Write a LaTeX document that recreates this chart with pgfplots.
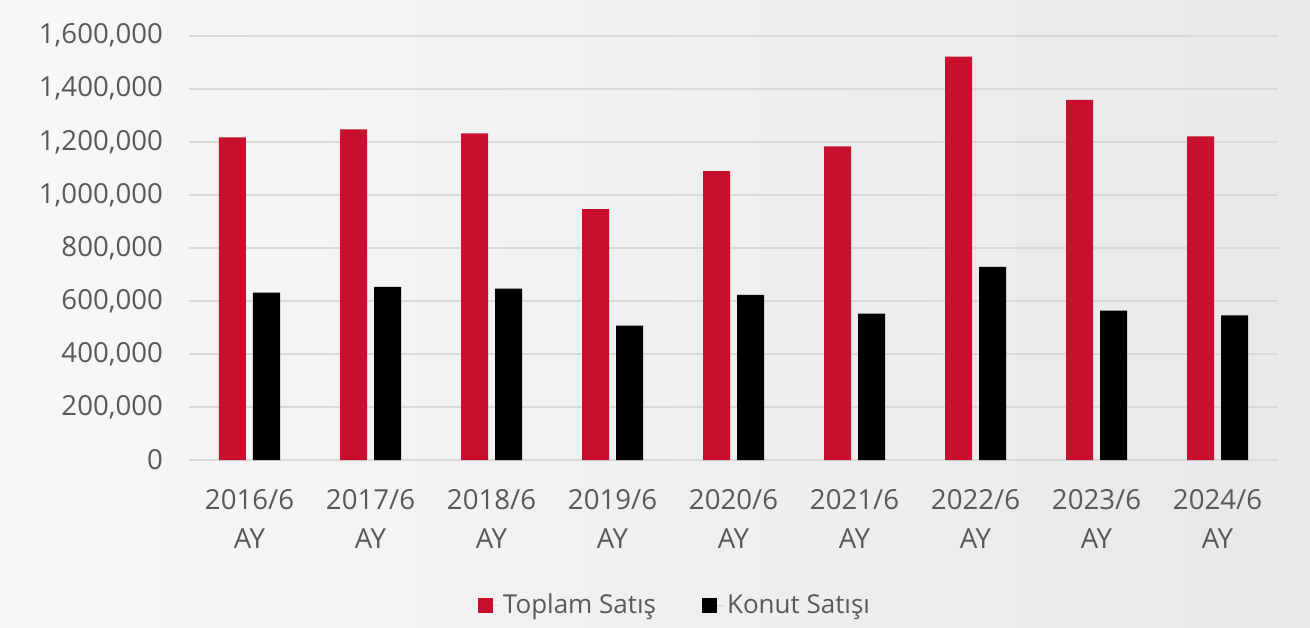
\documentclass[border=0pt]{standalone}
\usepackage{pgfplots}
\pgfplotsset{compat=1.18}
\usepackage{fontspec}
\setmainfont{Open Sans}
\definecolor{barred}{HTML}{C8102E}
\definecolor{txt}{HTML}{595959}
\definecolor{gridc}{HTML}{D9D9D9}
\begin{document}
\begin{tikzpicture}
\shade[left color=white!97!black, right color=white!91!black] (-94.5pt,-83.5pt) rectangle (560.5pt,230pt);
\begin{axis}[
  at={(0,0)}, anchor=south west,
  scale only axis, width=544.5pt, height=212.15pt,
  ybar=3.5pt, bar width=13.5pt,
  xmin=-0.5, xmax=8.5, ymin=0, ymax=1600000,
  xtick=data,
  xticklabels={{2016/6\\AY},{2017/6\\AY},{2018/6\\AY},{2019/6\\AY},{2020/6\\AY},{2021/6\\AY},{2022/6\\AY},{2023/6\\AY},{2024/6\\AY}},
  xticklabel style={align=center, font=\fontsize{13.8}{19.5}\selectfont, text=txt, yshift=-11pt},
  ytick distance=200000,
  scaled y ticks=false,
  yticklabel style={font=\fontsize{13.8}{16}\selectfont, text=txt, xshift=-9.5pt,
    /pgf/number format/.cd, fixed, 1000 sep={,}, assume math mode=true},
  major tick length=0pt,
  axis line style={draw=none},
  ymajorgrids, grid style={gridc, line width=1pt},
  legend style={at={(0.4472,-0.342)}, anchor=center, legend columns=2, draw=none, fill=none,
    font=\fontsize{13}{15}\selectfont, text=txt,
    /tikz/every even column/.append style={column sep=21pt}},
  legend image code/.code={\fill[#1,draw=none] (0pt,-3.75pt) rectangle (7.5pt,3.75pt); \path (0pt,0pt) -- (10.5pt,0pt);},
]
\addplot[fill=barred, draw=none] coordinates {(0,1217000) (1,1247000) (2,1232000) (3,946000) (4,1089000) (5,1183000) (6,1521000) (7,1358000) (8,1220000)};
\addplot[fill=black, draw=none] coordinates {(0,631000) (1,653000) (2,646000) (3,507000) (4,623000) (5,552000) (6,728000) (7,563000) (8,545000)};
\legend{Toplam Satış, Konut Satışı}
\end{axis}
\end{tikzpicture}
\end{document}
